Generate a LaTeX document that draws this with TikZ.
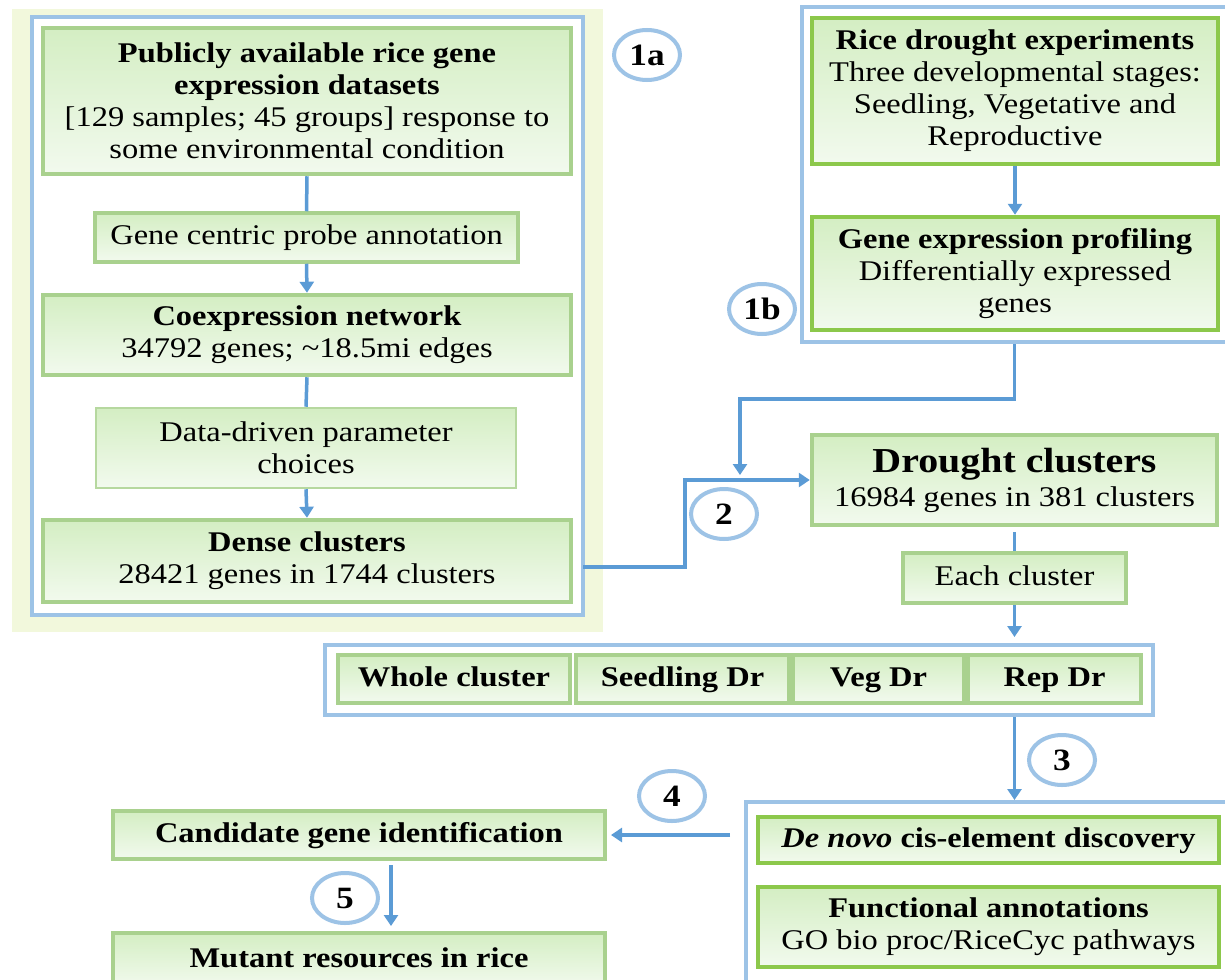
\documentclass[tikz,border=0pt]{standalone}
\usepackage{fontspec}
\setmainfont{Liberation Serif}[FakeStretch=1.14]
\usetikzlibrary{arrows.meta,shapes.geometric}
\definecolor{bgc}{HTML}{F2F8DC}
\definecolor{framec}{HTML}{9DC3E6}
\definecolor{arrc}{HTML}{5B9BD5}
\definecolor{gb}{HTML}{A9D18E}
\definecolor{gbb}{HTML}{8CC84B}
\definecolor{gtop}{HTML}{D4EEC3}
\definecolor{gbot}{HTML}{F2FAEE}
\tikzset{
  gbox/.style={draw=gb, line width=4.5pt, top color=gtop, bottom color=gbot, inner sep=0pt, align=center},
  gboxb/.style={gbox, draw=gbb},
  gthin/.style={gbox, line width=2.5pt, draw=gb!85},
  one/.style={text height=18pt, text depth=4pt},
  frame/.style={draw=framec, line width=4pt, fill=white, inner sep=0pt},
  lab/.style={ellipse, draw=framec, line width=4pt, fill=white, minimum width=66pt, minimum height=50pt, inner sep=0pt, font=\fontsize{31}{32}\selectfont\bfseries},
  arr/.style={draw=arrc, line width=3.5pt, -{Triangle[width=14pt,length=11pt]}},
  ln/.style={draw=arrc, line width=3.5pt}
}
\begin{document}
\begin{tikzpicture}[x=1pt,y=-1pt, every node/.append style={font=\fontsize{28.5}{32}\selectfont}]
\clip (0,0) rectangle (1225,979);
\fill[white] (0,0) rectangle (1225,979);
% background of panel 1a
\fill[bgc] (12,9) rectangle (603,632);
% frames
\node[frame, minimum width=551, minimum height=598] (f1a) at (307.5,316) {};
\node[frame, minimum width=430, minimum height=335] (f1b) at (1017,174.5) {};
\node[frame, minimum width=828, minimum height=70] (frow) at (739,680) {};
\node[frame, minimum width=486, minimum height=193] (f3) at (989,898.5) {};

% panel 1a boxes
\node[gbox, minimum width=528, minimum height=146] (box1) at (307,101)
  {\textbf{Publicly available rice gene}\\\textbf{expression datasets}\\{[}129 samples; 45 groups{]} response to\\some environmental condition};
\node[gbox, one, line width=3.5pt, minimum width=423, minimum height=49] (gene) at (306.5,237.5) {Gene centric probe annotation};
\node[gbox, minimum width=528, minimum height=80] (coex) at (307,335)
  {\textbf{Coexpression network}\\34792 genes; \textasciitilde18.5mi edges};
\node[gthin, minimum width=420, minimum height=80] (data) at (306,448) {Data-driven parameter\\choices};
\node[gbox, minimum width=528, minimum height=82] (dense) at (307,561)
  {\textbf{Dense clusters}\\28421 genes in 1744 clusters};

% panel 1b boxes
\node[gboxb, minimum width=406, minimum height=146] (rice) at (1015,91)
  {\textbf{Rice drought experiments}\\Three developmental stages:\\Seedling, Vegetative and\\Reproductive};
\node[gboxb, minimum width=406, minimum height=113] (gexp) at (1015,273.5)
  {\textbf{Gene expression profiling}\\Differentially expressed\\genes};

% drought clusters
\node[gbox, minimum width=405, minimum height=90] (drought) at (1014.5,480)
  {{\fontsize{35}{37}\selectfont\bfseries Drought clusters}\\[2pt]16984 genes in 381 clusters};
\node[gbox, one, line width=4pt, minimum width=223, minimum height=50] (each) at (1014.5,578) {Each cluster};

% row
\node[gbox, one, line width=4pt, minimum width=232, minimum height=48, font=\fontsize{28.5}{32}\selectfont\bfseries] (whole) at (454,679) {Whole cluster};
\node[gbox, one, line width=4pt, minimum width=213, minimum height=48, font=\fontsize{28.5}{32}\selectfont\bfseries] (seed) at (682.5,679) {Seedling Dr};
\node[gbox, one, line width=4pt, minimum width=171, minimum height=48, font=\fontsize{28.5}{32}\selectfont\bfseries] (veg) at (878.5,679) {Veg Dr};
\node[gbox, one, line width=4pt, minimum width=173, minimum height=48, font=\fontsize{28.5}{32}\selectfont\bfseries] (rep) at (1054.5,679) {Rep Dr};

% bottom right
\node[gboxb, one, minimum width=461, minimum height=46] (denovo) at (988.5,840)
  {\textbf{\textit{De novo} cis-element discovery}};
\node[gboxb, minimum width=461, minimum height=80] (func) at (988.5,927)
  {\textbf{Functional annotations}\\GO bio proc/RiceCyc pathways};

% bottom left
\node[gbox, one, line width=4pt, minimum width=492, minimum height=48] (cand) at (359,835)
  {\textbf{Candidate gene identification}};
\node[gbox, one, line width=4pt, minimum width=492, minimum height=54] (mutant) at (359,960)
  {\textbf{Mutant resources in rice}};

% connectors in panel 1a
\draw[ln] (box1.south) -- (gene.north);
\draw[arr] (gene.south) -- (coex.north);
\draw[ln] (coex.south) -- (data.north);
\draw[arr] (data.south) -- (dense.north);
% panel 1b
\draw[arr] (rice.south) -- (gexp.north);

% connectors to drought clusters
\coordinate (t1b) at (740,475);
\draw[arr] (f1b.south -| drought.north) -- ++(0,55) -| (t1b);
\coordinate (s2) at (583,567);
\draw[arr] (s2) -- ++(102,0) |- (drought.west);
\draw[ln, shorten <=5pt] (drought.south) -- (each.north);
\draw[arr, shorten >=6pt] (each.south) -- (frow.north -| each.south);
\draw[arr] (frow.south -| each.south) -- (f3.north -| each.south);
\coordinate (s4) at (730,835);
\draw[arr, shorten >=4pt] (s4) -- (cand.east);
\draw[arr, shorten <=4pt, shorten >=5pt] ([xshift=32pt]cand.south) -- ([xshift=32pt]mutant.north);

% step labels
\node[lab] (c1a) at (647,55) {1a};
\node[lab] (c1b) at (762,309) {1b};
\node[lab] (c2) at (724,514) {2};
\node[lab] (c3) at (1062,760) {3};
\node[lab] (c4) at (672,796) {4};
\node[lab] (c5) at (345,898) {5};
\end{tikzpicture}
\end{document}
